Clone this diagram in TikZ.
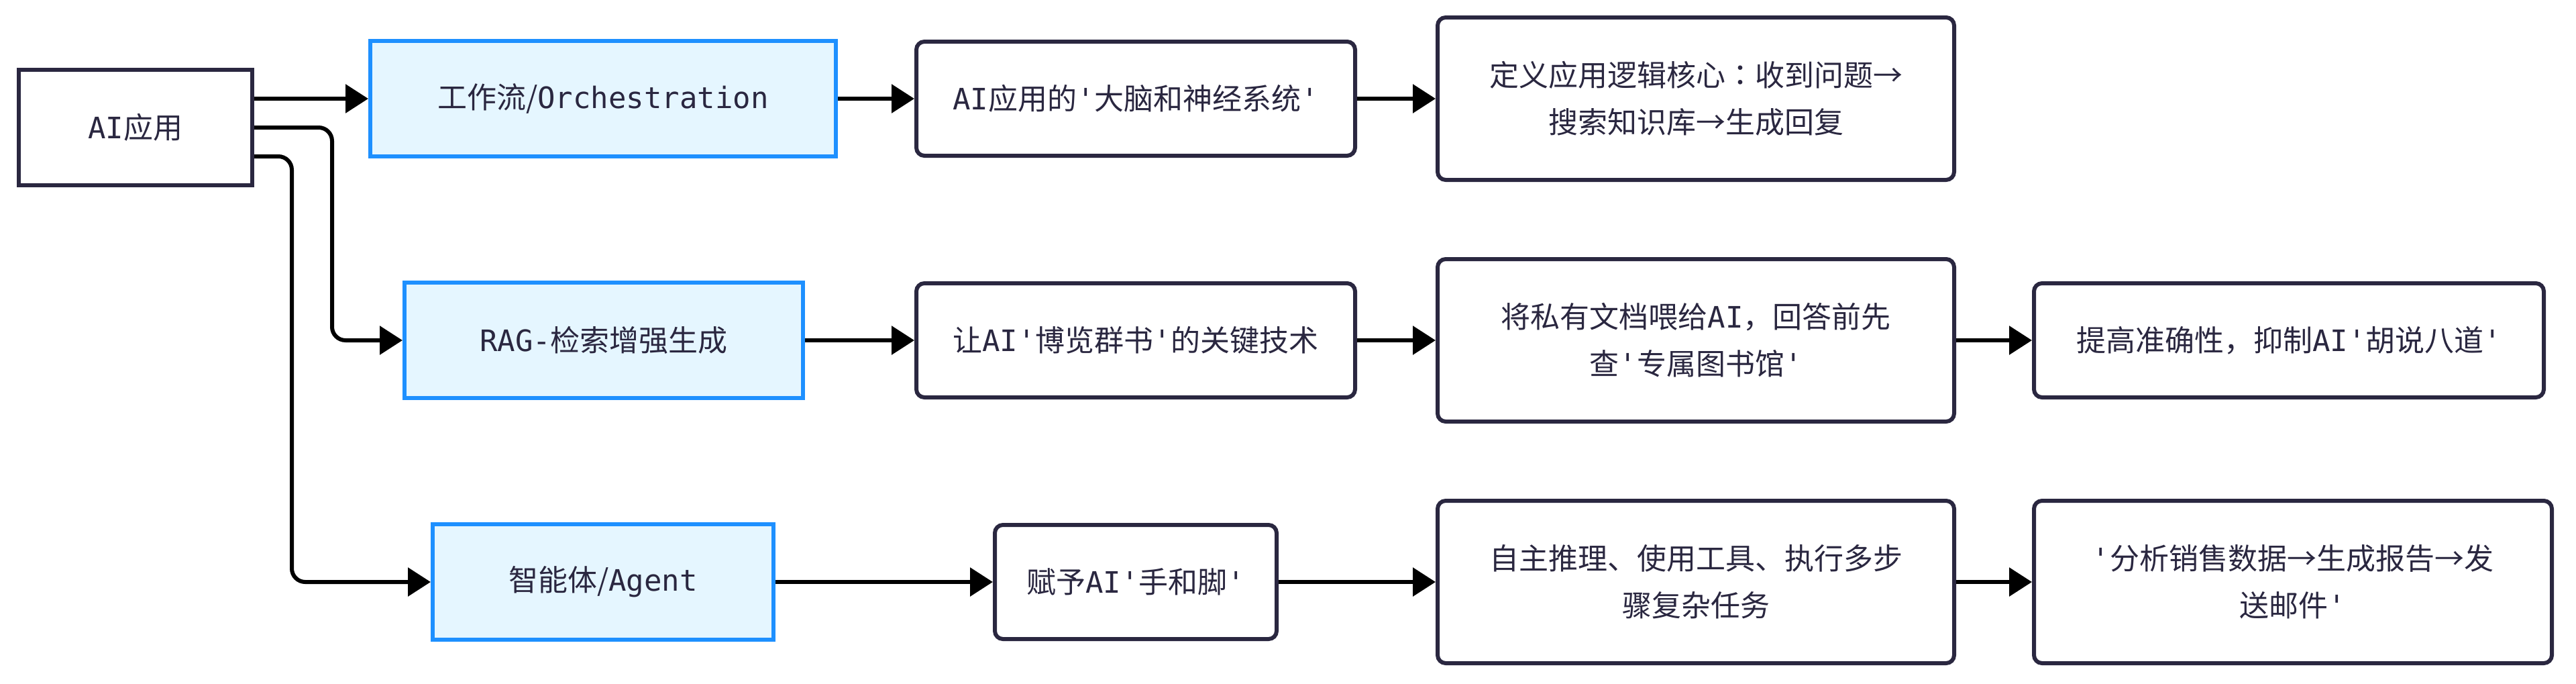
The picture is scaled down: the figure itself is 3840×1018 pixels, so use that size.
\documentclass[tikz,border=0pt]{standalone}
\usepackage{fontspec}
\setmainfont{Noto Sans CJK SC}
\newfontfamily\monofont{DejaVu Sans Mono}
\newfontfamily\jpfont{Noto Sans CJK JP}
\newcommand\mn[1]{{\monofont #1}}
\newcommand\q{{\monofont\textquotesingle}}
\usetikzlibrary{arrows.meta,calc}
\definecolor{ink}{HTML}{2A2740}
\definecolor{blueline}{HTML}{1E90FF}
\definecolor{bluefill}{HTML}{E5F6FF}
\tikzset{
  base/.style={draw=ink, line width=3pt, text=ink, font=\fontsize{22pt}{35pt}\selectfont, align=center, inner sep=0pt, anchor=center},
  rootbox/.style={base, fill=white},
  catbox/.style={base, draw=blueline, fill=bluefill},
  infobox/.style={base, fill=white, rounded corners=6pt},
  conn/.style={draw=black, line width=3pt, rounded corners=10pt, -{Triangle[length=17pt,width=21pt]}}
}
\begin{document}
\begin{tikzpicture}[x=0.5pt,y=-0.5pt]
\useasboundingbox (0,0) rectangle (3840,1018);
% root
\node[rootbox, minimum width=174pt, minimum height=86pt] (ai) at (202,190) {\mn{AI}应用};
% categories
\node[catbox, minimum width=347pt, minimum height=86pt] (orch) at (899,147) {工作流/\mn{Orchestration}};
\node[catbox, minimum width=297pt, minimum height=86pt] (rag) at (900,507) {\mn{RAG-}检索增强生成};
\node[catbox, minimum width=254pt, minimum height=86pt] (agent) at (899,867) {智能体/\mn{Agent}};
% row 1
\node[infobox, minimum width=327pt, minimum height=85pt] (brain) at (1693,147) {\mn{AI}应用的\q 大脑和神经系统\q};
\node[infobox, minimum width=385pt, minimum height=121pt] (define) at (2528,147) {定义应用逻辑核心{\jpfont ：}收到问题→\\搜索知识库→生成回复};
% row 2
\node[infobox, minimum width=327pt, minimum height=85pt] (lib) at (1693,507) {让\mn{AI}\q 博览群书\q 的关键技术};
\node[infobox, minimum width=385pt, minimum height=121pt] (feed) at (2528,507) {将私有文档喂给\mn{AI}，回答前先\\查\q 专属图书馆\q};
\node[infobox, minimum width=380pt, minimum height=85pt] (acc) at (3412,507) {提高准确性，抑制\mn{AI}\q 胡说八道\q};
% row 3
\node[infobox, minimum width=210pt, minimum height=85pt] (hands) at (1693,867) {赋予\mn{AI}\q 手和脚\q};
\node[infobox, minimum width=385pt, minimum height=121pt] (auto) at (2528,867) {自主推理、使用工具、执行多步\\骤复杂任务};
\node[infobox, minimum width=386pt, minimum height=121pt] (sales) at (3418,867) {\q 分析销售数据→生成报告→发\\送邮件\q};
% connectors from root
\draw[conn] (ai.east |- orch.west) -- (orch.west);
\draw[conn] (ai.east) -- ++(116,0) |- (rag.west);
\draw[conn] ($(ai.east)+(0,43)$) -- ++(56,0) |- (agent.west);
% rows
\draw[conn] (orch.east) -- (brain.west);
\draw[conn] (brain.east) -- (define.west);
\draw[conn] (rag.east) -- (lib.west);
\draw[conn] (lib.east) -- (feed.west);
\draw[conn] (feed.east) -- (acc.west);
\draw[conn] (agent.east) -- (hands.west);
\draw[conn] (hands.east) -- (auto.west);
\draw[conn] (auto.east) -- (sales.west);
\end{tikzpicture}
\end{document}
